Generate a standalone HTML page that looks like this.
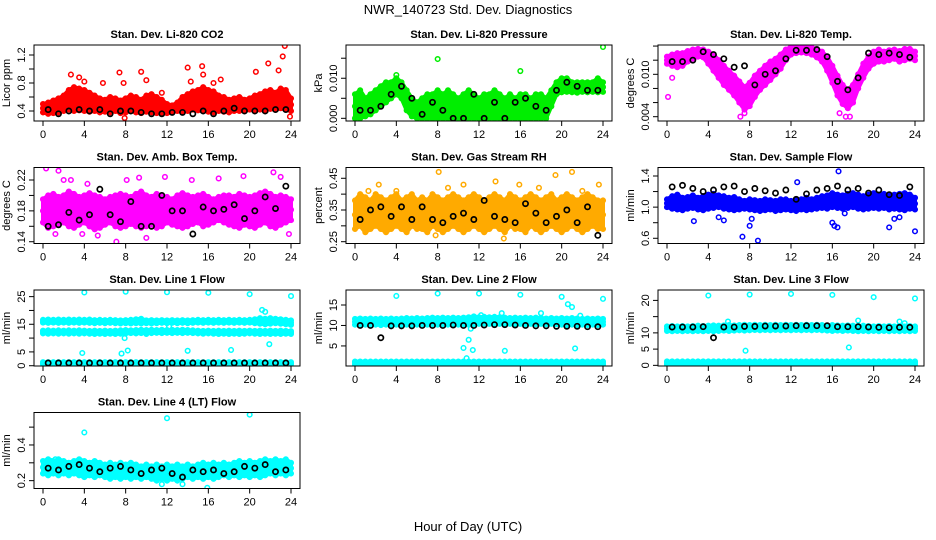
<!DOCTYPE html>
<html><head><meta charset="utf-8">
<style>
html,body{margin:0;padding:0;background:#fff;}
svg{display:block;font-family:"Liberation Sans",Arial,sans-serif;}
</style></head>
<body>
<svg id="chart" width="936" height="540" viewBox="0 0 936 540">
<text x="468" y="14" font-size="13" text-anchor="middle">NWR_140723 Std. Dev. Diagnostics</text>
<text x="468" y="531" font-size="13" text-anchor="middle">Hour of Day (UTC)</text>
</svg>
<script>
const H=[0,0.5,1,1.5,2,2.5,3,3.5,4,4.5,5,5.5,6,6.5,7,7.5,8,8.5,9,9.5,10,10.5,11,11.5,12,12.5,13,13.5,14,14.5,15,15.5,16,16.5,17,17.5,18,18.5,19,19.5,20,20.5,21,21.5,22,22.5,23,23.5,24];
const HB=[0.5,1.5,2.5,3.5,4.5,5.5,6.5,7.5,8.5,9.5,10.5,11.5,12.5,13.5,14.5,15.5,16.5,17.5,18.5,19.5,20.5,21.5,22.5,23.5];
const xTicks=[0,4,8,12,16,20,24];

const co2Lo=[0.38,0.36,0.37,0.38,0.40,0.42,0.40,0.41,0.40,0.39,0.40,0.38,0.39,0.38,0.40,0.37,0.38,0.40,0.38,0.37,0.39,0.38,0.37,0.36,0.37,0.38,0.40,0.39,0.40,0.42,0.41,0.40,0.39,0.38,0.40,0.39,0.38,0.40,0.40,0.41,0.42,0.41,0.42,0.41,0.43,0.42,0.44,0.42,0.40];
const co2Hi=[0.50,0.52,0.55,0.58,0.62,0.70,0.74,0.72,0.70,0.66,0.62,0.58,0.56,0.60,0.58,0.55,0.58,0.62,0.60,0.56,0.62,0.64,0.60,0.56,0.50,0.48,0.52,0.60,0.64,0.68,0.70,0.74,0.70,0.68,0.62,0.60,0.56,0.58,0.60,0.56,0.58,0.62,0.64,0.68,0.70,0.66,0.72,0.70,0.58];
const co2Black=[0.42,0.36,0.40,0.42,0.40,0.42,0.36,0.40,0.40,0.38,0.36,0.36,0.38,0.38,0.36,0.40,0.36,0.40,0.44,0.40,0.40,0.40,0.42,0.42];
const co2OutX=[2.7,3.5,4,5.8,7.4,7.8,9.5,10,11.5,14,14.3,15.4,15.5,16.5,17.2,20.6,21.8,22.8,23.2,23.4,23.9,7.9];
const co2OutY=[0.92,0.88,0.82,0.80,0.95,0.80,0.96,0.84,0.66,1.02,0.82,1.04,0.92,0.80,0.85,0.96,1.08,0.98,1.18,1.33,0.32,0.30];

const presLo=[0,0,0.0005,0.001,0.002,0.003,0.004,0.005,0.006,0.005,0.002,0.0005,0,0,0,0,0,0,0,0,0,0,0,0,0,0,0,0,0,0,0,0,0,0,0,0,0,0,0.003,0.006,0.0065,0.0066,0.0065,0.0064,0.0066,0.0065,0.0066,0.0065,0.0066];
const presHi=[0.006,0.007,0.005,0.006,0.007,0.008,0.009,0.009,0.010,0.009,0.007,0.005,0.004,0.005,0.006,0.006,0.007,0.006,0.007,0.006,0.005,0.006,0.007,0.006,0.005,0.006,0.006,0.007,0.006,0.005,0.006,0.005,0.006,0.006,0.005,0.006,0.006,0.005,0.007,0.009,0.010,0.010,0.009,0.009,0.009,0.009,0.009,0.010,0.009];
const presBlack=[0.002,0.002,0.003,0.006,0.008,0.005,0.001,0.004,0.002,0,0,0.006,0,0.004,0,0.004,0.005,0.003,0.002,0.007,0.009,0.008,0.007,0.007];
const presOutX=[4,8,16,24];
const presOutY=[0.0108,0.0148,0.0118,0.0178];

const tempLo=[.0115,.0112,.0110,.0112,.0118,.0122,.0125,.0124,.0115,.0105,.0095,.0085,.0078,.0070,.0060,.0050,.0055,.0068,.0078,.0085,.0092,.0100,.0108,.0120,.0128,.0130,.0131,.0130,.0128,.0124,.0118,.0105,.0088,.0070,.0058,.0052,.0060,.0080,.0095,.0108,.0115,.0118,.0118,.0120,.0122,.0118,.0120,.0122,.0120];
const tempHi=[.0125,.0128,.0130,.0130,.0133,.0135,.0136,.0135,.0132,.0128,.0120,.0112,.0105,.0098,.0090,.0082,.0088,.0098,.0105,.0112,.0118,.0122,.0128,.0135,.0139,.0139,.0139,.0139,.0138,.0136,.0132,.0125,.0112,.0098,.0085,.0078,.0085,.0100,.0115,.0125,.0132,.0135,.0132,.0134,.0135,.0133,.0136,.0136,.0132];
const tempBlack=[.0118,.0118,.0120,.0132,.0128,.0122,.0110,.0112,.0085,.0100,.0105,.0122,.0134,.0134,.0135,.0125,.0090,.0078,.0095,.0130,.0128,.0130,.0128,.0124];
const tempOutX=[0.1,0.5,7.1,17.3,17.7,7.5,16.7];
const tempOutY=[.0068,.0095,.0040,.0040,.0040,.0045,.0045];

const ambLo=[0.165,0.158,0.160,0.162,0.165,0.160,0.158,0.162,0.165,0.160,0.156,0.158,0.162,0.165,0.160,0.158,0.160,0.163,0.160,0.158,0.160,0.162,0.158,0.160,0.165,0.162,0.160,0.158,0.160,0.163,0.165,0.160,0.162,0.165,0.168,0.165,0.162,0.160,0.158,0.162,0.160,0.158,0.162,0.165,0.160,0.158,0.162,0.165,0.168];
const ambHi=[0.195,0.200,0.202,0.198,0.200,0.205,0.202,0.198,0.200,0.203,0.200,0.198,0.195,0.198,0.200,0.202,0.200,0.198,0.202,0.205,0.200,0.198,0.202,0.200,0.198,0.195,0.200,0.203,0.200,0.198,0.200,0.202,0.198,0.195,0.198,0.200,0.200,0.198,0.202,0.200,0.198,0.200,0.203,0.205,0.202,0.198,0.200,0.198,0.195];
const ambBlack=[0.160,0.162,0.178,0.168,0.175,0.208,0.175,0.166,0.192,0.160,0.160,0.200,0.180,0.180,0.150,0.185,0.180,0.182,0.188,0.170,0.180,0.198,0.183,0.212];
const ambOutX=[0.3,1.5,2,2.7,4.3,5.3,7.1,8.1,9.3,10,11.8,14.4,17,19.4,22.3,23,23.8,1.2,3.8];
const ambOutY=[0.235,0.232,0.22,0.22,0.215,0.148,0.14,0.22,0.223,0.145,0.224,0.22,0.222,0.225,0.23,0.224,0.15,0.15,0.15];

const rhLo=[0.29,0.30,0.28,0.29,0.30,0.29,0.28,0.29,0.30,0.29,0.28,0.30,0.29,0.29,0.28,0.30,0.29,0.28,0.29,0.30,0.29,0.28,0.29,0.30,0.29,0.28,0.29,0.30,0.29,0.28,0.30,0.29,0.29,0.28,0.30,0.29,0.28,0.29,0.30,0.29,0.28,0.29,0.30,0.29,0.28,0.29,0.30,0.29,0.29];
const rhHi=[0.38,0.40,0.39,0.38,0.40,0.39,0.38,0.39,0.40,0.38,0.39,0.40,0.38,0.39,0.38,0.40,0.39,0.38,0.39,0.40,0.39,0.38,0.39,0.40,0.39,0.38,0.39,0.40,0.39,0.38,0.40,0.39,0.38,0.39,0.40,0.39,0.38,0.39,0.40,0.38,0.39,0.40,0.39,0.38,0.39,0.40,0.39,0.38,0.38];
const rhBlack=[0.32,0.35,0.36,0.33,0.36,0.32,0.36,0.32,0.31,0.33,0.34,0.32,0.38,0.33,0.32,0.31,0.37,0.34,0.31,0.33,0.35,0.31,0.36,0.27];
const rhOutX=[1.3,2.3,4,8.1,9,10.5,11.5,13.6,15.9,17.8,19.4,21,22,23.6,7.8,14.4];
const rhOutY=[0.41,0.43,0.41,0.47,0.42,0.43,0.39,0.44,0.43,0.42,0.46,0.47,0.41,0.43,0.27,0.26];

const flowLo=[1.00,0.98,0.97,0.96,0.98,0.99,0.97,0.96,0.98,0.99,1.00,0.98,0.97,0.96,0.97,0.98,0.97,0.96,0.95,0.96,0.97,0.95,0.96,0.97,0.96,0.95,0.97,0.96,0.97,0.98,0.99,0.98,1.00,0.99,0.98,0.99,1.00,0.98,0.97,0.98,0.99,0.98,0.99,0.97,0.98,0.97,0.96,0.98,0.97];
const flowHi=[1.10,1.14,1.16,1.12,1.13,1.15,1.12,1.14,1.16,1.17,1.15,1.14,1.12,1.13,1.10,1.08,1.10,1.09,1.08,1.10,1.09,1.08,1.10,1.10,1.08,1.09,1.10,1.12,1.10,1.12,1.14,1.15,1.18,1.16,1.15,1.17,1.18,1.16,1.14,1.16,1.18,1.16,1.17,1.15,1.16,1.17,1.18,1.16,1.12];
const flowBlack=[1.26,1.28,1.24,1.20,1.22,1.26,1.27,1.20,1.24,1.21,1.18,1.22,1.10,1.17,1.22,1.24,1.27,1.22,1.24,1.18,1.22,1.16,1.15,1.26];
const flowOutX=[2.6,5,5.5,7.3,8,8.2,8.8,12.6,16,16.2,16.5,17.2,21.5,22,22.5,24,16.6];
const flowOutY=[0.82,0.87,0.83,0.62,0.76,0.85,0.57,1.32,0.8,0.76,0.74,0.92,0.74,0.85,0.87,0.69,1.46];

const l1TopLo=[15.6,15.5,15.6,15.5,15.6,15.5,15.6,15.5,15.6,15.5,15.4,15.5,15.4,15.5,15.4,15.3,15.4,15.3,15.4,15.3,15.4,15.3,15.4,15.5,15.4,15.5,15.4,15.5,15.4,15.5,15.6,15.5,15.6,15.5,15.6,15.5,15.6,15.5,15.6,15.5,15.6,15.4,15.2,15.0,15.2,15.4,15.2,15.0,14.8];
const l1TopHi=[16.6,16.7,16.6,16.7,16.6,16.7,16.6,16.7,16.6,16.7,16.5,16.6,16.5,16.6,16.5,16.4,16.5,16.6,16.8,17.0,16.4,16.5,16.4,16.5,16.4,16.5,16.4,16.5,16.4,16.5,16.6,16.5,16.6,16.5,16.6,16.5,16.6,16.5,16.6,16.5,16.6,16.8,17.2,17.0,17.2,17.0,16.8,16.6,16.4];
const l1MidLo=[11.7,11.6,11.7,11.6,11.7,11.6,11.7,11.6,11.7,11.6,11.5,11.6,11.5,11.6,11.5,11.6,11.7,11.8,11.7,11.8,11.9,11.8,11.9,11.8,11.9,11.8,11.9,11.8,11.9,11.8,11.7,11.6,11.7,11.6,11.5,11.6,11.5,11.6,11.5,11.6,11.7,11.6,11.5,11.6,11.5,11.6,11.5,11.6,11.5];
const l1MidHi=[12.7,12.8,12.7,12.8,12.7,12.8,12.7,12.8,12.7,12.6,12.7,12.6,12.7,12.6,12.7,12.8,12.9,12.8,12.9,13.0,12.9,13.0,12.9,13.0,12.9,13.0,12.9,13.0,12.9,12.8,12.7,12.6,12.7,12.6,12.7,12.6,12.7,12.6,12.7,12.6,12.7,12.6,12.7,12.6,12.7,12.6,12.7,12.6,12.5];
const l1BotLo=[0.6,0.6,0.6,0.6,0.6,0.6,0.6,0.6,0.6,0.6,0.6,0.6,0.6,0.6,0.6,0.6,0.6,0.6,0.6,0.6,0.6,0.6,0.6,0.6,0.6,0.6,0.6,0.6,0.6,0.6,0.6,0.6,0.6,0.6,0.6,0.6,0.6,0.6,0.6,0.6,0.6,0.6,0.6,0.6,0.6,0.6,0.6,0.6,0.6];
const l1BotHi=[1.3,1.3,1.3,1.3,1.3,1.3,1.3,1.3,1.3,1.3,1.3,1.3,1.3,1.3,1.3,1.3,1.3,1.3,1.3,1.3,1.3,1.3,1.3,1.3,1.3,1.3,1.3,1.3,1.3,1.3,1.3,1.3,1.3,1.3,1.3,1.3,1.3,1.3,1.3,1.3,1.3,1.3,1.3,1.3,1.3,1.3,1.3,1.3,1.3];
const l1Black=[1.0,1.0,1.0,1.0,1.0,1.0,1.0,1.0,1.0,1.0,1.0,1.0,1.0,1.0,1.0,1.0,1.0,1.0,1.0,1.0,1.0,1.0,1.0,1.0];
const l1OutX=[4,8,12,16,20,24,3.8,7.6,7.9,8.2,10,12.2,14,18.2,21.2,21.5,21.9];
const l1OutY=[26.5,26.8,26.6,26.4,25.9,25.2,4.6,4.4,10.0,5.5,11.5,14.2,5.4,5.7,20.2,19.5,7.8];

const l2Lo=[10.2,10.1,10.2,10.1,10.2,10.1,10.2,10.1,10.2,10.1,10.2,10.1,10.2,10.3,10.2,10.3,10.2,10.3,10.2,10.3,10.2,10.3,10.2,10.3,10.4,10.5,10.4,10.5,10.4,10.5,10.4,10.3,10.4,10.3,10.4,10.3,10.4,10.3,10.4,10.3,10.2,10.1,10.2,10.1,10.2,10.1,10.2,10.1,10.2];
const l2Hi=[11.6,11.7,11.6,11.7,11.6,11.7,11.6,11.7,11.6,11.7,11.8,11.7,11.8,11.7,11.8,11.9,11.8,11.9,11.8,11.9,11.8,11.9,12.0,12.2,12.0,12.1,12.0,12.1,12.0,11.9,11.8,11.9,11.8,11.9,11.8,11.9,11.8,11.7,11.8,11.7,11.8,11.7,11.8,11.7,11.6,11.7,11.6,11.7,11.6];
const l2BotLo=[0.5,0.5,0.5,0.5,0.5,0.5,0.5,0.5,0.5,0.5,0.5,0.5,0.5,0.5,0.5,0.5,0.5,0.5,0.5,0.5,0.5,0.5,0.5,0.5,0.5,0.5,0.5,0.5,0.5,0.5,0.5,0.5,0.5,0.5,0.5,0.5,0.5,0.5,0.5,0.5,0.5,0.5,0.5,0.5,0.5,0.5,0.5,0.5,0.5];
const l2BotHi=[1.2,1.2,1.2,1.2,1.2,1.2,1.2,1.2,1.2,1.2,1.2,1.2,1.2,1.2,1.2,1.2,1.2,1.2,1.2,1.2,1.2,1.2,1.2,1.2,1.2,1.2,1.2,1.2,1.2,1.2,1.2,1.2,1.2,1.2,1.2,1.2,1.2,1.2,1.2,1.2,1.2,1.2,1.2,1.2,1.2,1.2,1.2,1.2,1.2];
const l2Black=[10.0,10.0,7.0,9.9,9.9,9.9,10.0,10.0,10.0,10.1,10.0,10.0,10.1,10.2,10.2,10.1,10.0,9.9,9.9,9.8,9.8,9.8,9.7,9.7];
const l2OutX=[4,8,12,16,20,24,10.5,10.8,11,11.2,11.4,12.2,14.2,14.5,18,20.6,21,21.3,21.8,22];
const l2OutY=[17.2,17.8,17.8,17.5,17,16.5,4.5,2.0,6.5,9.2,4.0,12.5,13,3.8,13,15.2,14.5,4.4,12.4,10.5];

const l3Lo=[10.6,10.5,10.6,10.5,10.6,10.5,10.6,10.5,10.6,10.5,10.6,10.7,10.6,10.7,10.8,10.7,10.8,10.9,10.8,10.9,10.8,10.9,10.8,10.9,10.8,10.9,10.8,10.9,10.8,10.9,10.8,10.7,10.6,10.7,10.6,10.7,10.6,10.5,10.6,10.5,10.6,10.5,10.6,10.5,10.6,10.5,10.6,10.5,10.6];
const l3Hi=[12.0,12.1,12.0,12.1,12.0,12.1,12.2,12.1,12.2,12.3,12.2,12.3,12.4,12.3,12.4,12.5,12.4,12.5,12.4,12.5,12.4,12.5,12.4,12.5,12.4,12.5,12.4,12.5,12.4,12.5,12.4,12.3,12.4,12.3,12.2,12.3,12.2,12.1,12.2,12.1,12.0,12.1,12.0,12.1,12.0,12.1,12.0,12.1,12.0];
const l3BotLo=[0.3,0.3,0.3,0.3,0.3,0.3,0.3,0.3,0.3,0.3,0.3,0.3,0.3,0.3,0.3,0.3,0.3,0.3,0.3,0.3,0.3,0.3,0.3,0.3,0.3,0.3,0.3,0.3,0.3,0.3,0.3,0.3,0.3,0.3,0.3,0.3,0.3,0.3,0.3,0.3,0.3,0.3,0.3,0.3,0.3,0.3,0.3,0.3,0.3];
const l3BotHi=[1.2,1.2,1.2,1.2,1.2,1.2,1.2,1.2,1.2,1.2,1.2,1.2,1.2,1.2,1.2,1.2,1.2,1.2,1.2,1.2,1.2,1.2,1.2,1.2,1.2,1.2,1.2,1.2,1.2,1.2,1.2,1.2,1.2,1.2,1.2,1.2,1.2,1.2,1.2,1.2,1.2,1.2,1.2,1.2,1.2,1.2,1.2,1.2,1.2];
const l3Black=[11.8,11.8,11.8,11.9,8.5,11.8,11.8,12.0,12.0,12.1,12.1,12.1,12.2,12.2,12.2,12.2,11.9,11.9,11.9,11.8,11.7,11.6,11.7,11.7];
const l3OutX=[4,8,12,16,20,24,5.9,7.6,17.6,18.5,22.5,23];
const l3OutY=[21.5,21.8,22,21.7,21,20.6,13.5,4.5,5.5,13.8,13.5,13];

const l4Lo=[0.24,0.23,0.24,0.23,0.24,0.23,0.24,0.23,0.22,0.23,0.22,0.23,0.22,0.21,0.22,0.21,0.22,0.21,0.22,0.21,0.22,0.21,0.20,0.21,0.20,0.21,0.20,0.21,0.22,0.21,0.22,0.21,0.22,0.21,0.22,0.23,0.22,0.23,0.22,0.23,0.22,0.23,0.22,0.23,0.24,0.23,0.24,0.23,0.24];
const l4Hi=[0.31,0.32,0.31,0.32,0.31,0.30,0.31,0.32,0.31,0.30,0.31,0.30,0.29,0.30,0.29,0.30,0.29,0.30,0.29,0.28,0.29,0.28,0.29,0.28,0.29,0.28,0.29,0.28,0.29,0.28,0.29,0.30,0.29,0.30,0.29,0.30,0.29,0.30,0.31,0.30,0.31,0.30,0.31,0.32,0.31,0.32,0.31,0.32,0.30];
const l4Black=[0.27,0.26,0.28,0.29,0.27,0.25,0.27,0.28,0.26,0.24,0.26,0.27,0.24,0.22,0.26,0.25,0.26,0.24,0.25,0.28,0.27,0.29,0.25,0.26];
const l4OutX=[4,12,20,11.5,13.5,15.9,0.8,1.2];
const l4OutY=[0.47,0.55,0.57,0.18,0.18,0.16,0.31,0.32];

const panels=[
 {name:'li820-co2',title:'Stan. Dev. Li-820 CO2',ylab:'Licor ppm',col:0,row:0,ylim:[0.257,1.343],ticks:[0.4,0.6,0.8,1.0,1.2],labels:['0.4','','0.8','','1.2'],color:'#ff0000',bands:[[co2Lo,co2Hi]],black:co2Black,ox:co2OutX,oy:co2OutY},
 {name:'li820-pressure',title:'Stan. Dev. Li-820 Pressure',ylab:'kPa',col:1,row:0,ylim:[-0.00067,0.0183],ticks:[0,0.005,0.010,0.015],labels:['0.000','','0.010',''],color:'#00ee00',bands:[[presLo,presHi]],black:presBlack,ox:presOutX,oy:presOutY},
 {name:'li820-temp',title:'Stan. Dev. Li-820 Temp.',ylab:'degrees C',col:2,row:0,ylim:[0.00339,0.01415],ticks:[0.004,0.006,0.008,0.010,0.012,0.014],labels:['0.004','','','0.010','',''],color:'#ff00ff',bands:[[tempLo,tempHi]],black:tempBlack,ox:tempOutX,oy:tempOutY},
 {name:'amb-box-temp',title:'Stan. Dev. Amb. Box Temp.',ylab:'degrees C',col:0,row:1,ylim:[0.1377,0.2362],ticks:[0.14,0.16,0.18,0.20,0.22],labels:['0.14','','0.18','','0.22'],color:'#ff00ff',bands:[[ambLo,ambHi]],black:ambBlack,ox:ambOutX,oy:ambOutY},
 {name:'gas-stream-rh',title:'Stan. Dev. Gas Stream RH',ylab:'percent',col:1,row:1,ylim:[0.2443,0.484],ticks:[0.25,0.30,0.35,0.40,0.45],labels:['0.25','','0.35','','0.45'],color:'#ffaa00',bands:[[rhLo,rhHi]],black:rhBlack,ox:rhOutX,oy:rhOutY},
 {name:'sample-flow',title:'Stan. Dev. Sample Flow',ylab:'ml/min',col:2,row:1,ylim:[0.533,1.509],ticks:[0.6,0.8,1.0,1.2,1.4],labels:['0.6','','1.0','','1.4'],color:'#0000ff',bands:[[flowLo,flowHi]],black:flowBlack,ox:flowOutX,oy:flowOutY},
 {name:'line1-flow',title:'Stan. Dev. Line 1 Flow',ylab:'ml/min',col:0,row:2,ylim:[-0.1,27.4],ticks:[0,5,10,15,20,25],labels:['0','5','','15','','25'],color:'#00ffff',bands:[[l1TopLo,l1TopHi],[l1MidLo,l1MidHi],[l1BotLo,l1BotHi]],black:l1Black,ox:l1OutX,oy:l1OutY},
 {name:'line2-flow',title:'Stan. Dev. Line 2 Flow',ylab:'ml/min',col:1,row:2,ylim:[0.1,18.66],ticks:[5,10,15],labels:['5','10','15'],color:'#00ffff',bands:[[l2Lo,l2Hi],[l2BotLo,l2BotHi]],black:l2Black,ox:l2OutX,oy:l2OutY},
 {name:'line3-flow',title:'Stan. Dev. Line 3 Flow',ylab:'ml/min',col:2,row:2,ylim:[-0.2,23.2],ticks:[0,5,10,15,20],labels:['0','5','10','','20'],color:'#00ffff',bands:[[l3Lo,l3Hi],[l3BotLo,l3BotHi]],black:l3Black,ox:l3OutX,oy:l3OutY},
 {name:'line4-flow',title:'Stan. Dev. Line 4 (LT) Flow',ylab:'ml/min',col:0,row:3,ylim:[0.156,0.582],ticks:[0.2,0.3,0.4,0.5],labels:['0.2','','0.4',''],color:'#00ffff',bands:[[l4Lo,l4Hi]],black:l4Black,ox:l4OutX,oy:l4OutY}
];

const NS='http://www.w3.org/2000/svg';
const svg=document.getElementById('chart');
function mk(tag,attrs,parent){const e=document.createElementNS(NS,tag);for(const k in attrs)e.setAttribute(k,attrs[k]);parent.appendChild(e);return e;}
const colL=[34,346,658],rowT=[45,167.5,290,412.5],W=266,HT=76;

panels.forEach(p=>{
  const L=colL[p.col],T=rowT[p.row],B=T+HT;
  const xs=h=>L+9+h/24*248;
  const ys=v=>B-(v-p.ylim[0])/(p.ylim[1]-p.ylim[0])*HT;
  const g=mk('g',{},svg);
  
  
  const cid='clip-'+p.name;
  const cp=mk('clipPath',{id:cid},g);
  mk('rect',{x:L,y:T,width:W,height:HT},cp);
  const pg=mk('g',{'clip-path':'url(#'+cid+')'},g);
  
  
  p.bands.forEach((b,bi)=>{
    const lo=b[0],hi=b[1];
    let pts=[];
    for(let i=0;i<H.length;i++)pts.push(xs(H[i])+','+ys(hi[i]));
    for(let i=H.length-1;i>=0;i--)pts.push(xs(H[i])+','+ys(lo[i]));
    const poly=mk('polygon',{points:pts.join(' '),fill:p.color,stroke:p.color,'stroke-width':4,'stroke-linejoin':'round'},pg);
    
    
    for(let i=0;i<H.length;i++){
      [lo[i],hi[i],(lo[i]+hi[i])/2].forEach(v=>{
        const c=mk('circle',{cx:xs(H[i]),cy:ys(v),r:2.3,fill:'none',stroke:p.color,'stroke-width':1.5},pg);
        
        
      });
    }
  });
  for(let i=0;i<p.ox.length;i++){
    const c=mk('circle',{cx:xs(p.ox[i]),cy:ys(p.oy[i]),r:2.3,fill:'none',stroke:p.color,'stroke-width':1.5},pg);
    
    
  }
  for(let i=0;i<p.black.length;i++){
    const c=mk('circle',{cx:xs(HB[i]),cy:ys(p.black[i]),r:2.6,fill:'none',stroke:'#000','stroke-width':1.7},pg);
    
    
  }
  const fr=mk('rect',{x:L,y:T,width:W,height:HT,fill:'none',stroke:'#000','stroke-width':1},g);
  
  
  const tt=mk('text',{x:L+W/2,y:T-7,'font-size':11,'font-weight':'bold','text-anchor':'middle'},g);
  tt.textContent=p.title;
  
  
  // x axis
  const xa=mk('g',{},g);
  
  
  mk('line',{x1:xs(xTicks[0]),x2:xs(xTicks[xTicks.length-1]),y1:B,y2:B,stroke:'#000'},xa);
  xTicks.forEach(t=>{
    mk('line',{x1:xs(t),x2:xs(t),y1:B,y2:B+5,stroke:'#000'},xa);
    const tx=mk('text',{x:xs(t),y:B+17,'font-size':11,'text-anchor':'middle'},xa);
    tx.textContent=String(t);
    
    
  });
  // y axis
  const ya=mk('g',{},g);
  
  
  mk('line',{x1:L,x2:L,y1:ys(p.ticks[0]),y2:ys(p.ticks[p.ticks.length-1]),stroke:'#000'},ya);
  p.ticks.forEach((t,i)=>{
    const y=ys(t);
    mk('line',{x1:L-5,x2:L,y1:y,y2:y,stroke:'#000'},ya);
    if(p.labels[i]){
      const tx=mk('text',{x:L-9,y:y,'font-size':11,'text-anchor':'middle',transform:'rotate(-90 '+(L-9)+' '+y+')'},ya);
      tx.textContent=p.labels[i];
      
      
    }
  });
  const yl=mk('text',{x:L-24,y:T+HT/2,'font-size':11,'text-anchor':'middle',transform:'rotate(-90 '+(L-24)+' '+(T+HT/2)+')'},g);
  yl.textContent=p.ylab;
  
  
});
</script>
</body></html>
